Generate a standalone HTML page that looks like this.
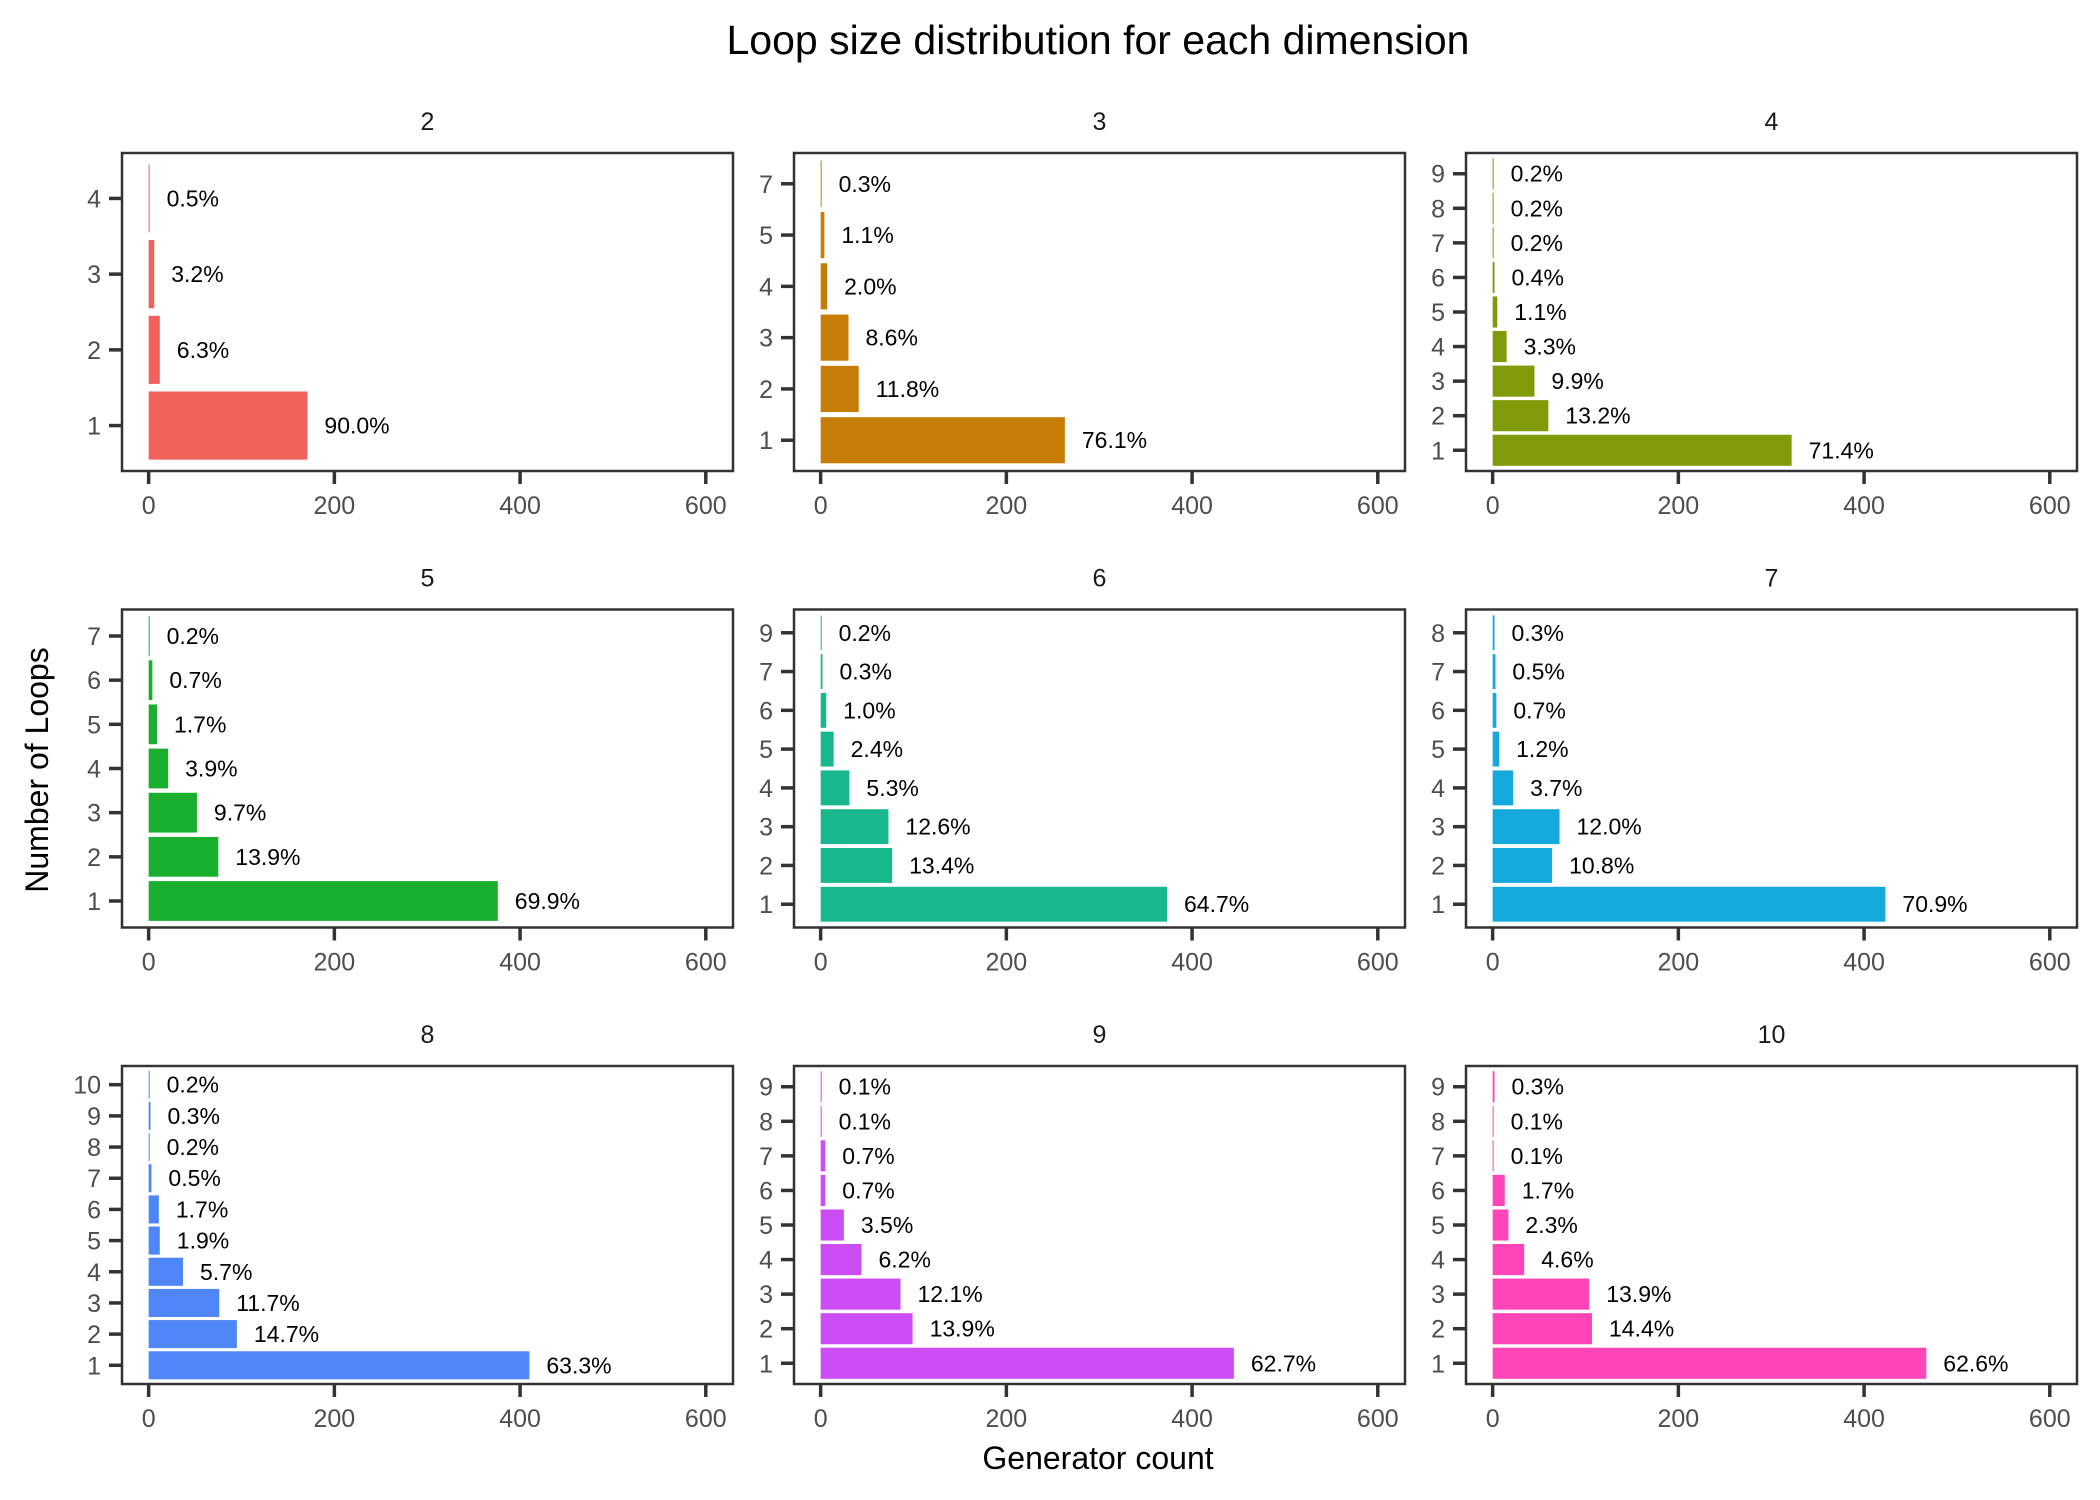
<!DOCTYPE html>
<html><head><meta charset="utf-8">
<style>
html,body{margin:0;padding:0;background:#fff;}
svg{display:block;font-family:"Liberation Sans",Arial,sans-serif;}
</style></head>
<body>
<svg id="chart" width="2100" height="1500" viewBox="0 0 2100 1500">
<text x="1098" y="54" font-size="41" text-anchor="middle" fill="#000">Loop size distribution for each dimension</text>
<text x="1098" y="1469" font-size="32" text-anchor="middle" fill="#000">Generator count</text>
<text transform="translate(48,770) rotate(-90)" font-size="32" text-anchor="middle" fill="#000">Number of Loops</text>
<g id="panels"></g>
</svg>
<script>
const panelNames = ["2","3","4","5","6","7","8","9","10"];
const panelColors = ["#F2605C","#C77D05","#7F9B0A","#1AAE2F","#19B78E","#15A8DC","#4F86F7","#CC4DF5","#FF45B7"];
const cats2 = [1,2,3,4];
const vals2 = [171,12,6,1];
const pct2 = ["90.0%","6.3%","3.2%","0.5%"];
const cats3 = [1,2,3,4,5,7];
const vals3 = [263,41,30,7,4,1];
const pct3 = ["76.1%","11.8%","8.6%","2.0%","1.1%","0.3%"];
const cats4 = [1,2,3,4,5,6,7,8,9];
const vals4 = [322,60,45,15,5,2,1,1,1];
const pct4 = ["71.4%","13.2%","9.9%","3.3%","1.1%","0.4%","0.2%","0.2%","0.2%"];
const cats5 = [1,2,3,4,5,6,7];
const vals5 = [376,75,52,21,9,4,1];
const pct5 = ["69.9%","13.9%","9.7%","3.9%","1.7%","0.7%","0.2%"];
const cats6 = [1,2,3,4,5,6,7,9];
const vals6 = [373,77,73,31,14,6,2,1];
const pct6 = ["64.7%","13.4%","12.6%","5.3%","2.4%","1.0%","0.3%","0.2%"];
const cats7 = [1,2,3,4,5,6,7,8];
const vals7 = [423,64,72,22,7,4,3,2];
const pct7 = ["70.9%","10.8%","12.0%","3.7%","1.2%","0.7%","0.5%","0.3%"];
const cats8 = [1,2,3,4,5,6,7,8,9,10];
const vals8 = [410,95,76,37,12,11,3,1,2,1];
const pct8 = ["63.3%","14.7%","11.7%","5.7%","1.9%","1.7%","0.5%","0.2%","0.3%","0.2%"];
const cats9 = [1,2,3,4,5,6,7,8,9];
const vals9 = [445,99,86,44,25,5,5,1,1];
const pct9 = ["62.7%","13.9%","12.1%","6.2%","3.5%","0.7%","0.7%","0.1%","0.1%"];
const cats10 = [1,2,3,4,5,6,7,8,9];
const vals10 = [467,107,104,34,17,13,1,1,2];
const pct10 = ["62.6%","14.4%","13.9%","4.6%","2.3%","1.7%","0.1%","0.1%","0.3%"];
const xTicks = [0,200,400,600];

const allCats=[cats2,cats3,cats4,cats5,cats6,cats7,cats8,cats9,cats10];
const allVals=[vals2,vals3,vals4,vals5,vals6,vals7,vals8,vals9,vals10];
const allPct=[pct2,pct3,pct4,pct5,pct6,pct7,pct8,pct9,pct10];

const NS="http://www.w3.org/2000/svg";
const root=document.getElementById('panels');
const colLeft=[122,794,1466], rowTop=[153,609.5,1066], PW=611, PH=318;
const xMin=-28.7, xMax=629.3;
function mk(tag,attrs,parent){const e=document.createElementNS(NS,tag);for(const k in attrs)e.setAttribute(k,attrs[k]);parent.appendChild(e);return e;}

panelNames.forEach((nm,i)=>{
  const L=colLeft[i%3], T=rowTop[Math.floor(i/3)];
  const cats=allCats[i], vals=allVals[i], pcts=allPct[i], col=panelColors[i];
  const n=cats.length;
  const g=mk('g',{},root);
  
  
  const xs=v=>L+(v-xMin)/(xMax-xMin)*PW;
  const unit=PH/(n-1+1.2);
  const ys=k=>T+PH-(0.6+k)*unit;
  const st=mk('text',{x:L+PW/2,y:T-23,'font-size':25,'text-anchor':'middle',fill:'#1a1a1a'},g);
  st.textContent=nm;
  
  
  cats.forEach((c,k)=>{
    const yc=ys(k);
    const r=mk('rect',{x:xs(0),y:yc-unit*0.45,width:Math.max(xs(vals[k])-xs(0),1),height:unit*0.9,fill:col},g);
    
    
    const lt=mk('text',{x:xs(vals[k])+17,y:yc+8,'font-size':23,fill:'#000'},g);
    lt.textContent=pcts[k];
    
    
    mk('line',{x1:L-13,x2:L,y1:yc,y2:yc,stroke:'#333','stroke-width':3.5},g);
    const tl=mk('text',{x:L-21,y:yc+9,'font-size':25,'text-anchor':'end',fill:'#4d4d4d'},g);
    tl.textContent=c;
    
    
  });
  const fr=mk('rect',{x:L,y:T,width:PW,height:PH,fill:'none',stroke:'#333','stroke-width':2.5},g);
  
  
  xTicks.forEach(t=>{
    const x=xs(t);
    mk('line',{x1:x,x2:x,y1:T+PH,y2:T+PH+13,stroke:'#333','stroke-width':3.5},g);
    const tx=mk('text',{x:x,y:T+PH+43,'font-size':25,'text-anchor':'middle',fill:'#4d4d4d'},g);
    tx.textContent=t;
    
    
  });
});
</script>
</body></html>
